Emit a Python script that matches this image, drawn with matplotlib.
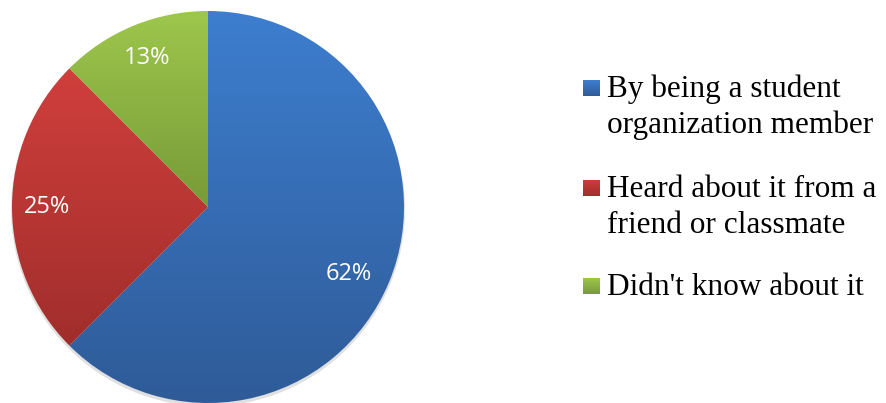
import numpy as np
import matplotlib
matplotlib.use("Agg")
import matplotlib.pyplot as plt
from matplotlib.colors import LinearSegmentedColormap
from matplotlib.patches import Circle

# slice sizes, labels as printed on the chart
shares = [62.5, 25, 12.5]
pct_labels = ['62%', '25%', '13%']
legend_labels = ['By being a student\norganization member',
                 'Heard about it from a\nfriend or classmate',
                 "Didn't know about it"]
top_cols = ['#3d7ecf', '#d03f3c', '#9dc74c']
bot_cols = ['#2f5b98', '#a02e2c', '#789a38']

W, H = 887, 403
fig = plt.figure(figsize=(W / 100, H / 100), dpi=100)
R = 196.0
cx, cy = 208.0, 207.0
ax = fig.add_axes([(cx - 200) / W, (H - cy - 200) / H, 400 / W, 400 / H])

wedges, texts = ax.pie(shares, startangle=90, counterclock=False, radius=1,
                       colors=top_cols, wedgeprops=dict(linewidth=0))
lim = 200 / R
ax.set_aspect('equal')
ax.axis('off')

# soft shadow under the pie
ax.add_patch(Circle((0.0, -0.012), 1.005, facecolor='#000000', alpha=0.12,
                    edgecolor='none', zorder=0))

def grad_cmap(c_top, c_bot):
    return LinearSegmentedColormap.from_list('g', [c_bot, c_top])

grad = np.linspace(0, 1, 256).reshape(-1, 1)
# gradient fill in every slice
for w, c1, c2 in zip(wedges, top_cols, bot_cols):
    ext = w.get_path().get_extents()
    im = ax.imshow(grad, cmap=grad_cmap(c1, c2), origin='lower', aspect='auto',
                   extent=[ext.x0, ext.x1, ext.y0, ext.y1], zorder=2)
    im.set_clip_path(w)
    w.set_facecolor('none')
ax.set_xlim(-lim, lim)
ax.set_ylim(-lim, lim)

label_pos = [(349, 274), (47, 207), (147, 58)]
for (px, py), lab in zip(label_pos, pct_labels):
    ax.text((px - cx) / R, (cy - py) / R, lab, color='white', fontsize=17,
            family='Open Sans', ha='center', va='center', zorder=5)

# legend: square marker beside the first line of each entry
line_gap = 36
first_baselines = [97, 197, 295]
for lab, base, c1, c2 in zip(legend_labels, first_baselines, top_cols, bot_cols):
    sq = fig.add_axes([583 / W, 1 - (base - 1) / H, 17 / W, 16 / H])
    sq.imshow(grad, cmap=grad_cmap(c1, c2), origin='lower', aspect='auto')
    sq.axis('off')
    for k, line in enumerate(lab.split('\n')):
        fig.text(607 / W, 1 - (base + k * line_gap) / H, line,
                 family='Liberation Serif', fontsize=22.5, va='baseline',
                 ha='left', color='black')

fig.savefig('out.png', dpi=100)
